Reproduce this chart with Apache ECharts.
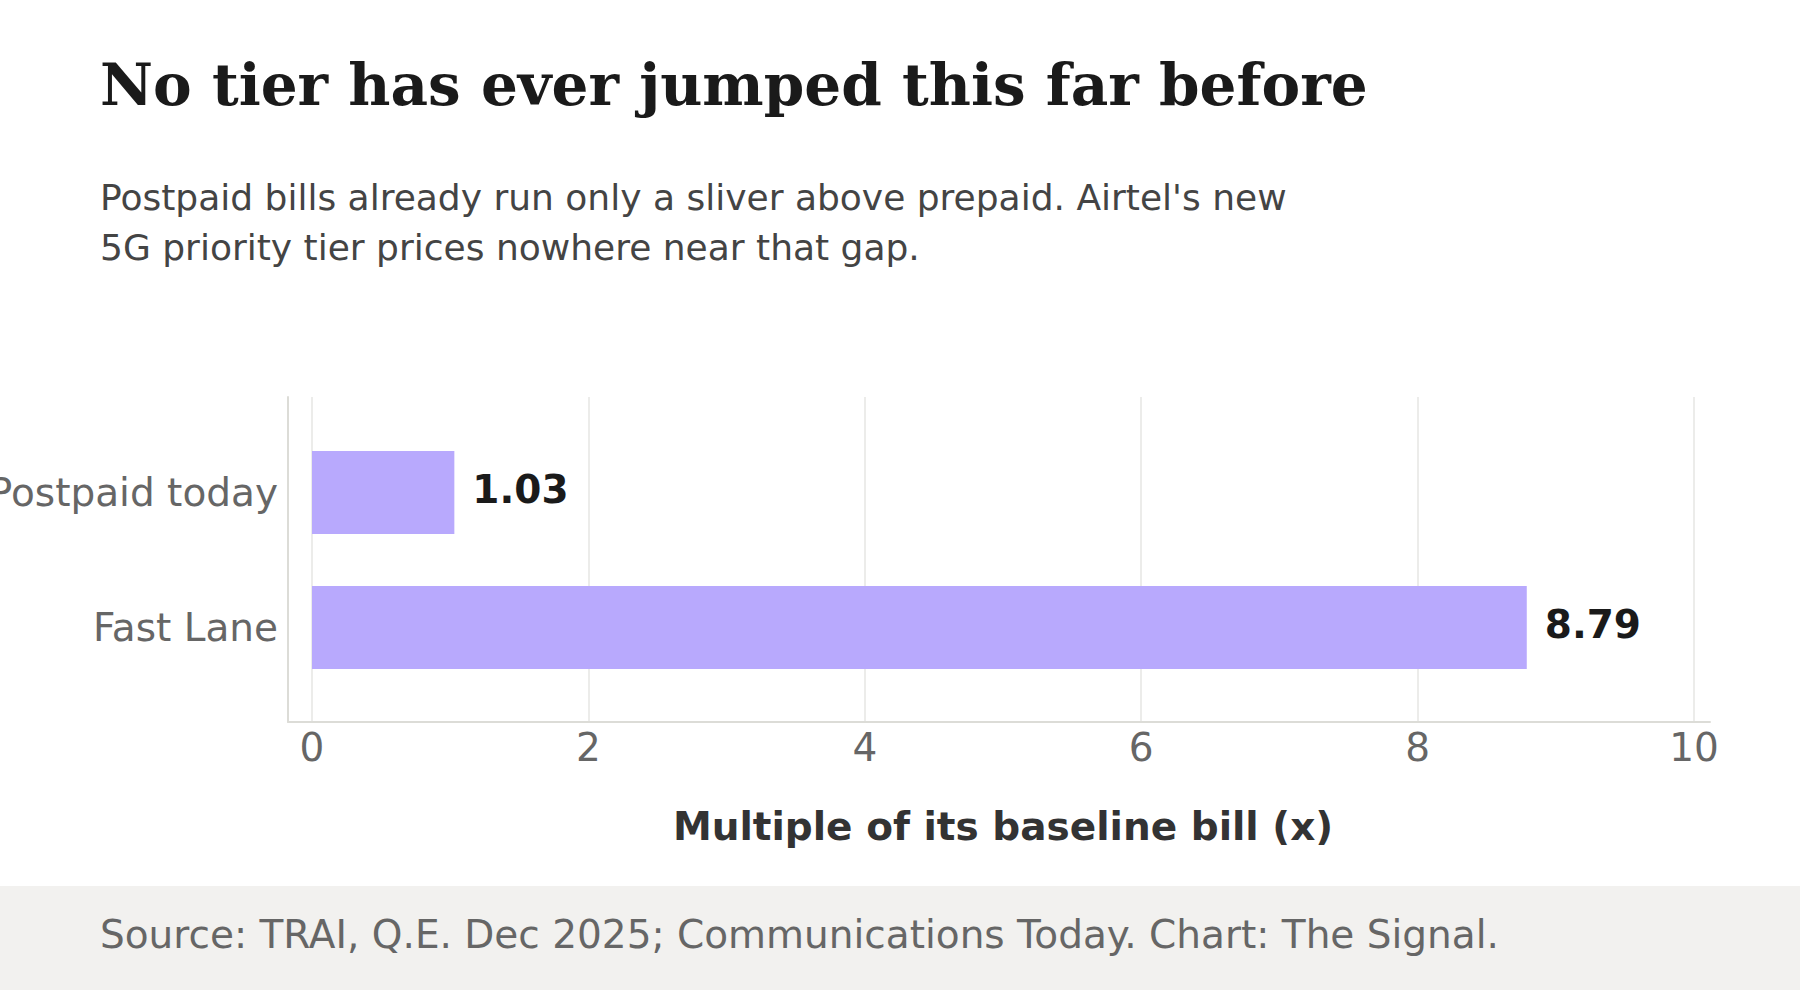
<!DOCTYPE html>
<html>
<head>
<meta charset="utf-8">
<script src="https://cdn.jsdelivr.net/npm/echarts@6/dist/echarts.min.js"></script>
<style>
html,body{margin:0;padding:0;background:#ffffff;}
#chart{width:1800px;height:990px;}
</style>
</head>
<body>
<div id="chart"></div>
<script>
const titleText = "No tier has ever jumped this far before";
const subtitleLines = ["Postpaid bills already run only a sliver above prepaid. Airtel's new", "5G priority tier prices nowhere near that gap."];
const sourceText = "Source: TRAI, Q.E. Dec 2025; Communications Today. Chart: The Signal.";
const axisTitle = "Multiple of its baseline bill (x)";
const categories = ["Postpaid today", "Fast Lane"];
const values = [1.03, 8.79];
const xMin = 0, xMax = 10, xInterval = 2;

const chart = echarts.init(document.getElementById('chart'), null, {renderer: 'svg'});
const sans = 'DejaVu Sans';
const option = {
  backgroundColor: '#ffffff',
  animation: false,
  graphic: [
    {type: 'rect', left: 0, top: 886, shape: {width: 1800, height: 104}, style: {fill: '#f2f1ef'}, z: -10},
    {type: 'text', left: 100, top: 56, style: {text: titleText, font: 'bold 58px "DejaVu Serif"', fill: '#1a1a1a'}},
    {type: 'text', left: 100, top: 172, style: {text: subtitleLines.join('\n'), font: '36px "DejaVu Sans"', fill: '#444444', lineHeight: 50}},
    {type: 'text', left: 100, top: 915, style: {text: sourceText, font: '39px "DejaVu Sans"', fill: '#666666'}}
  ],
  grid: [
    {left: 312, right: 106, top: 425, bottom: 295, containLabel: false, outerBoundsMode: 'none'},
    {left: 312, right: 106, top: 397, bottom: 268, containLabel: false, outerBoundsMode: 'none'},
    {left: 288, right: 90, top: 397, bottom: 268, containLabel: false, outerBoundsMode: 'none'}
  ],
  xAxis: [
    {gridIndex: 0, type: 'value', min: xMin, max: xMax, interval: xInterval, show: false},
    {gridIndex: 1, type: 'value', min: xMin, max: xMax, interval: xInterval,
      axisLine: {show: false}, axisTick: {show: false},
      splitLine: {show: true, lineStyle: {color: '#e6e6e3', width: 1.5}},
      axisLabel: {show: true, fontFamily: sans, fontSize: 39, color: '#666666', margin: 25, verticalAlign: 'middle'},
      name: axisTitle, nameLocation: 'middle', nameGap: 104,
      nameTextStyle: {fontFamily: sans, fontSize: 39, fontWeight: 'bold', color: '#333333', verticalAlign: 'middle'}
    },
    {gridIndex: 2, type: 'value', min: 0, max: 1, axisLabel: {show: false}, axisTick: {show: false}, splitLine: {show: false},
      axisLine: {show: true, lineStyle: {color: '#dcdcd7', width: 2}}}
  ],
  yAxis: [
    {gridIndex: 0, type: 'category', data: categories, inverse: true,
      axisLine: {show: false}, axisTick: {show: false}, splitLine: {show: false},
      axisLabel: {fontFamily: sans, fontSize: 39, color: '#666666', margin: 34}},
    {gridIndex: 1, type: 'value', show: false},
    {gridIndex: 2, type: 'value', min: 0, max: 1, axisLabel: {show: false}, axisTick: {show: false}, splitLine: {show: false},
      axisLine: {show: true, lineStyle: {color: '#dcdcd7', width: 2}}}
  ],
  series: [{
    type: 'bar', xAxisIndex: 0, yAxisIndex: 0, data: values, barWidth: 83,
    itemStyle: {color: '#b8a9fd'},
    label: {show: true, position: 'right', distance: 18, offset: [0, -3], fontFamily: sans, fontSize: 39, fontWeight: 'bold', color: '#1a1a1a',
      formatter: p => p.value.toFixed(2)}
  }]
};
chart.setOption(option);
</script>
</body>
</html>
